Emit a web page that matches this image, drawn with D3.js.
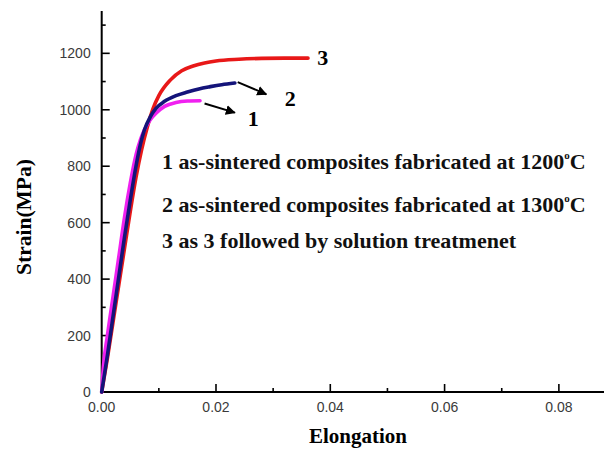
<!DOCTYPE html>
<html><head><meta charset="utf-8">
<script src="https://cdn.jsdelivr.net/npm/d3@7"></script>
<style>body{margin:0;background:#fff;}svg{display:block;}</style>
</head><body>
<svg id="chart" width="604" height="449"></svg>
<script>
// Data
const elong1 = [0, 0.0003, 0.001, 0.002, 0.003, 0.004, 0.005, 0.006, 0.0068, 0.0075, 0.0085, 0.0095, 0.011, 0.013, 0.015, 0.0172];
const stress1 = [0, 90, 200, 340, 480, 620, 740, 840, 895, 930, 965, 988, 1012, 1026, 1031, 1032];
const elong2 = [0, 0.001, 0.002, 0.003, 0.004, 0.005, 0.006, 0.0068, 0.0075, 0.0085, 0.0095, 0.011, 0.013, 0.015, 0.017, 0.019, 0.021, 0.0233];
const stress2 = [0, 130, 270, 410, 550, 680, 800, 880, 930, 975, 1005, 1030, 1050, 1063, 1074, 1082, 1089, 1095];
const elong3 = [0, 0.001, 0.002, 0.003, 0.004, 0.005, 0.006, 0.007, 0.008, 0.009, 0.010, 0.012, 0.014, 0.016, 0.018, 0.020, 0.024, 0.028, 0.032, 0.0361];
const stress3 = [0, 120, 250, 380, 510, 640, 760, 860, 940, 1005, 1050, 1105, 1138, 1155, 1166, 1173, 1179, 1182, 1183, 1183];
const seriesNames = ["1", "2", "3"];
const seriesColors = ["#f020f0", "#14147a", "#e81818"];
const xTicks = [0, 0.02, 0.04, 0.06, 0.08];
const yTicks = [0, 200, 400, 600, 800, 1000, 1200];
const legendLines = [
  ["1 as-sintered composites fabricated at 1200", "o", "C"],
  ["2 as-sintered composites fabricated at 1300", "o", "C"],
  ["3 as 3 followed by solution treatmenet", "", ""]
];

const svg = d3.select("#chart");
const x = d3.scaleLinear().domain([0, 0.088]).range([101.7, 604.6]);
const y = d3.scaleLinear().domain([0, 1350]).range([392, 11]);

// minor ticks
const xMinor = d3.range(0.01, 0.088, 0.02);
const yMinor = d3.range(100, 1350, 200);

const gx = svg.append("g").attr("transform", "translate(0,392)");
gx.append("line").attr("x1", x(0)).attr("x2", 604).attr("stroke", "#000").attr("stroke-width", 2);
gx.selectAll(".maj").data(xTicks).enter().append("line")
  .attr("x1", d => x(d)).attr("x2", d => x(d)).attr("y1", 0).attr("y2", -8)
  .attr("stroke", "#000").attr("stroke-width", 1.6);
gx.selectAll(".min").data(xMinor).enter().append("line")
  .attr("x1", d => x(d)).attr("x2", d => x(d)).attr("y1", 0).attr("y2", -4)
  .attr("stroke", "#000").attr("stroke-width", 1.6);
gx.selectAll("text").data(xTicks).enter().append("text")
  .attr("x", d => x(d)).attr("y", 20)
  .attr("text-anchor", "middle")
  .attr("font-family", "Liberation Sans, Arial, sans-serif").attr("font-size", 14).attr("fill", "#3a3a3a")
  .text(d => d3.format(".2f")(d));

const gy = svg.append("g").attr("transform", `translate(${x(0)},0)`);
gy.append("line").attr("y1", y(0) + 1).attr("y2", 11).attr("stroke", "#000").attr("stroke-width", 2);
gy.selectAll(".maj").data(yTicks).enter().append("line")
  .attr("y1", d => y(d)).attr("y2", d => y(d)).attr("x1", 0).attr("x2", 8)
  .attr("stroke", "#000").attr("stroke-width", 1.6);
gy.selectAll(".min").data(yMinor).enter().append("line")
  .attr("y1", d => y(d)).attr("y2", d => y(d)).attr("x1", 0).attr("x2", 4)
  .attr("stroke", "#000").attr("stroke-width", 1.6);
gy.selectAll("text").data(yTicks).enter().append("text")
  .attr("x", -11).attr("y", d => y(d) + 5)
  .attr("text-anchor", "end")
  .attr("font-family", "Liberation Sans, Arial, sans-serif").attr("font-size", 14).attr("fill", "#3a3a3a")
  .text(d => d);

// axis titles
svg.append("text").attr("x", 358).attr("y", 443).attr("text-anchor", "middle")
  .attr("font-family", "Liberation Serif, Times New Roman, serif").attr("font-weight", "bold").attr("font-size", 21)
  .text("Elongation");
svg.append("text").attr("transform", "translate(31,217) rotate(-90)").attr("text-anchor", "middle")
  .attr("font-family", "Liberation Serif, Times New Roman, serif").attr("font-weight", "bold").attr("font-size", 21.5)
  .text("Strain(MPa)");

// curves
const line = d3.line().x(d => x(d[0])).y(d => y(d[1])).curve(d3.curveMonotoneX);
const series = [
  d3.zip(elong1, stress1),
  d3.zip(elong2, stress2),
  d3.zip(elong3, stress3)
];
const order = [2, 0, 1];
order.forEach(i => {
  svg.append("path").datum(series[i]).attr("d", line)
    .attr("fill", "none").attr("stroke", seriesColors[i]).attr("stroke-width", 3.6)
    .attr("stroke-linecap", "round").attr("stroke-linejoin", "round");
});

// arrows and labels
const defs = svg.append("defs");
defs.append("marker").attr("id", "ah").attr("viewBox", "0 0 10 10").attr("refX", 9).attr("refY", 5)
  .attr("markerWidth", 5).attr("markerHeight", 5).attr("orient", "auto")
  .append("path").attr("d", "M0,0 L10,5 L0,10 z").attr("fill", "#000");

const serif = "Liberation Serif, Times New Roman, serif";
svg.append("line").attr("x1", x(0.0238)).attr("y1", y(1098)).attr("x2", x(0.0288)).attr("y2", y(1055))
  .attr("stroke", "#000").attr("stroke-width", 2).attr("marker-end", "url(#ah)");
svg.append("line").attr("x1", x(0.0180)).attr("y1", y(1022)).attr("x2", x(0.0233)).attr("y2", y(990))
  .attr("stroke", "#000").attr("stroke-width", 2).attr("marker-end", "url(#ah)");
const labelPos = [[0.0265, 943], [0.0330, 1013], [0.0387, 1158]];
labelPos.forEach((p, i) => {
  svg.append("text").attr("x", x(p[0])).attr("y", y(p[1])).attr("text-anchor", "middle")
    .attr("font-family", serif).attr("font-weight", "bold").attr("font-size", 22)
    .text(seriesNames[i]);
});

// legend texts
const lineY = [169, 211.5, 248];
legendLines.forEach((t, i) => {
  const tx = svg.append("text").attr("x", 162).attr("y", lineY[i])
    .attr("font-family", serif).attr("font-weight", "bold").attr("font-size", 22).attr("fill", "#111");
  tx.append("tspan").text(t[0]);
  if (t[1]) {
    tx.append("tspan").attr("font-size", 11).attr("dy", -10).text(t[1]);
    tx.append("tspan").attr("dy", 10).text(t[2]);
  }
});
</script>
</body></html>
